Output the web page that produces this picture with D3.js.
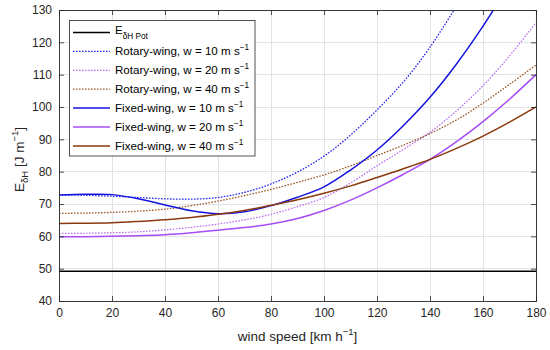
<!DOCTYPE html>
<html>
<head>
<meta charset="utf-8">
<script src="https://cdn.jsdelivr.net/npm/d3@7"></script>
<style>
  html, body { margin: 0; padding: 0; background: #fff; }
  svg { display: block; font-family: "Liberation Sans", Arial, Helvetica, sans-serif; }
</style>
</head>
<body>
<svg id="chart" width="550" height="350"></svg>
<script>
// ---- data ----
const speeds = [0, 10, 20, 30, 40, 50, 60, 70, 80, 90, 100, 110, 120, 130, 140, 150, 160, 170, 180];
const potEnergy = 49.2;
const rotary10 = [72.8, 72.7, 72.4, 72.0, 71.6, 71.5, 72.0, 73.6, 76.2, 79.9, 84.8, 91.3, 99.1, 107.8, 118.5, 131.2, null, null, null];
const rotary20 = [60.9, 60.95, 61.1, 61.4, 62.0, 62.8, 63.8, 65.1, 66.8, 69.2, 72.0, 76.5, 81.8, 86.9, 92.2, 98.8, 106.6, 115.8, 126.1];
const rotary40 = [67.1, 67.2, 67.4, 67.8, 68.4, 69.5, 70.9, 72.6, 74.5, 76.7, 79.0, 81.8, 85.0, 88.2, 91.8, 96.0, 101.2, 107.0, 113.0];
const fixed10  = [72.8, 73.0, 72.9, 71.6, 69.7, 67.9, 67.0, 67.6, 69.5, 72.1, 75.3, 80.5, 86.7, 94.3, 103.0, 113.3, 125.0, 138.0, null];
const fixed20  = [59.9, 59.9, 60.0, 60.2, 60.5, 61.1, 61.9, 62.7, 63.8, 65.5, 68.0, 71.2, 75.0, 79.2, 83.8, 89.3, 95.5, 102.4, 110.0];
const fixed40  = [64.0, 64.05, 64.2, 64.6, 65.1, 65.8, 66.8, 68.0, 69.6, 71.3, 73.3, 75.6, 78.2, 80.9, 83.8, 87.2, 91.0, 95.3, 100.0];
const xTicks = [0, 20, 40, 60, 80, 100, 120, 140, 160, 180];
const yTicks = [40, 50, 60, 70, 80, 90, 100, 110, 120, 130];
const seriesNames = ["Rotary-wing, w = 10 m s", "Rotary-wing, w = 20 m s", "Rotary-wing, w = 40 m s",
                     "Fixed-wing, w = 10 m s", "Fixed-wing, w = 20 m s", "Fixed-wing, w = 40 m s"];

// ---- styles ----
const styles = [
  { color: "#2a2af0", dash: "1.6,1.4", width: 1.3 },
  { color: "#b86cf5", dash: "1.6,1.4", width: 1.2 },
  { color: "#9a5a2a", dash: "1.6,1.4", width: 1.3 },
  { color: "#1414e0", dash: null, width: 1.5 },
  { color: "#a64cf8", dash: null, width: 1.5 },
  { color: "#8a3a0c", dash: null, width: 1.5 }
];
const seriesData = [rotary10, rotary20, rotary40, fixed10, fixed20, fixed40];

const svg = d3.select("#chart");
const L = 59, R = 536, T = 10, B = 301;
const x = d3.scaleLinear().domain([0, 180]).range([L, R]);
const y = d3.scaleLinear().domain([40, 130]).range([B, T]);
const axisColor = "#262626";

// grid
const grid = svg.append("g");
grid.selectAll(".gx").data(xTicks).join("line")
  .attr("x1", d => x(d)).attr("x2", d => x(d)).attr("y1", T).attr("y2", B)
  .attr("stroke", "#e3e3e3").attr("stroke-width", 1).attr("shape-rendering", "crispEdges");
grid.selectAll(".gy").data(yTicks).join("line")
  .attr("x1", L).attr("x2", R).attr("y1", d => y(d)).attr("y2", d => y(d))
  .attr("stroke", "#e3e3e3").attr("stroke-width", 1).attr("shape-rendering", "crispEdges");

// clip
svg.append("defs").append("clipPath").attr("id", "clip")
  .append("rect").attr("x", L).attr("y", T).attr("width", R - L).attr("height", B - T);
const plot = svg.append("g").attr("clip-path", "url(#clip)");

// potential line
plot.append("line")
  .attr("x1", x(0)).attr("x2", x(180)).attr("y1", y(potEnergy)).attr("y2", y(potEnergy))
  .attr("stroke", "#000").attr("stroke-width", 1.5);

const line = d3.line()
  .defined(d => d[1] !== null)
  .x(d => x(d[0])).y(d => y(d[1]))
  .curve(d3.curveCatmullRom.alpha(0.5));

seriesData.forEach((vals, i) => {
  const pts = speeds.map((s, j) => [s, vals[j]]);
  plot.append("path").datum(pts)
    .attr("d", line)
    .attr("fill", "none")
    .attr("stroke", styles[i].color)
    .attr("stroke-width", styles[i].width)
    .attr("stroke-dasharray", styles[i].dash);
});

// axes (MATLAB style box with inward ticks)
const fontTick = 12;
const gx = svg.append("g").attr("transform", `translate(0,${B})`)
  .call(d3.axisBottom(x).tickValues(xTicks).tickSize(-5).tickPadding(7).tickSizeOuter(0));
const gxt = svg.append("g").attr("transform", `translate(0,${T})`)
  .call(d3.axisTop(x).tickValues(xTicks).tickSize(-5).tickFormat("").tickSizeOuter(0));
const gy = svg.append("g").attr("transform", `translate(${L},0)`)
  .call(d3.axisLeft(y).tickValues(yTicks).tickSize(-5).tickPadding(7).tickSizeOuter(0));
const gyr = svg.append("g").attr("transform", `translate(${R},0)`)
  .call(d3.axisRight(y).tickValues(yTicks).tickSize(-5).tickFormat("").tickSizeOuter(0));
[gx, gxt, gy, gyr].forEach(g => {
  g.select(".domain").remove();
  g.selectAll("line").attr("stroke", axisColor).attr("stroke-width", 0.8);
  g.selectAll("text").attr("fill", axisColor).attr("font-size", fontTick)
    .attr("font-family", "Liberation Sans, Arial, sans-serif");
});
svg.append("rect").attr("x", L).attr("y", T).attr("width", R - L).attr("height", B - T)
  .attr("fill", "none").attr("stroke", axisColor).attr("stroke-width", 0.9)
  .attr("shape-rendering", "crispEdges");

// axis labels
const xl = svg.append("text").attr("x", (L + R) / 2).attr("y", 341)
  .attr("text-anchor", "middle").attr("font-size", 13.5).attr("fill", axisColor);
xl.append("tspan").text("wind speed [km h");
xl.append("tspan").attr("dy", -6).attr("font-size", 9.5).text("\u22121");
xl.append("tspan").attr("dy", 6).text("]");

const yl = svg.append("text").attr("transform", `translate(24,${(T + B) / 2 + 4}) rotate(-90)`)
  .attr("text-anchor", "middle").attr("font-size", 13.5).attr("fill", axisColor);
yl.append("tspan").text("E");
yl.append("tspan").attr("dy", 4).attr("font-size", 9.5).text("\u03B4H");
yl.append("tspan").attr("dy", -4).text(" [J m");
yl.append("tspan").attr("dy", -6).attr("font-size", 9.5).text("\u22121");
yl.append("tspan").attr("dy", 6).text("]");

// legend
const lg = svg.append("g");
lg.append("rect").attr("x", 69.5).attr("y", 20.5).attr("width", 185.5).attr("height", 135.5)
  .attr("fill", "#fff").attr("stroke", axisColor).attr("stroke-width", 0.8);
const rowY0 = 32.5, rowDy = 18.9;
const legFont = 11.6;
// pot entry
lg.append("line").attr("x1", 73).attr("x2", 110).attr("y1", rowY0).attr("y2", rowY0)
  .attr("stroke", "#000").attr("stroke-width", 1.5);
const t0 = lg.append("text").attr("x", 115).attr("y", rowY0 + 1).attr("font-size", legFont).attr("fill", "#000");
t0.append("tspan").text("E");
t0.append("tspan").attr("dy", 5).attr("font-size", 8.2).text("\u03B4H Pot");

seriesNames.forEach((name, i) => {
  const yy = rowY0 + rowDy * (i + 1);
  lg.append("line").attr("x1", 73).attr("x2", 110).attr("y1", yy).attr("y2", yy)
    .attr("stroke", styles[i].color).attr("stroke-width", styles[i].width)
    .attr("stroke-dasharray", styles[i].dash);
  const t = lg.append("text").attr("x", 115).attr("y", yy + 4).attr("font-size", legFont).attr("fill", "#000");
  t.append("tspan").text(name);
  t.append("tspan").attr("dy", -5).attr("font-size", 8.2).text("\u22121");
});
</script>
</body>
</html>
